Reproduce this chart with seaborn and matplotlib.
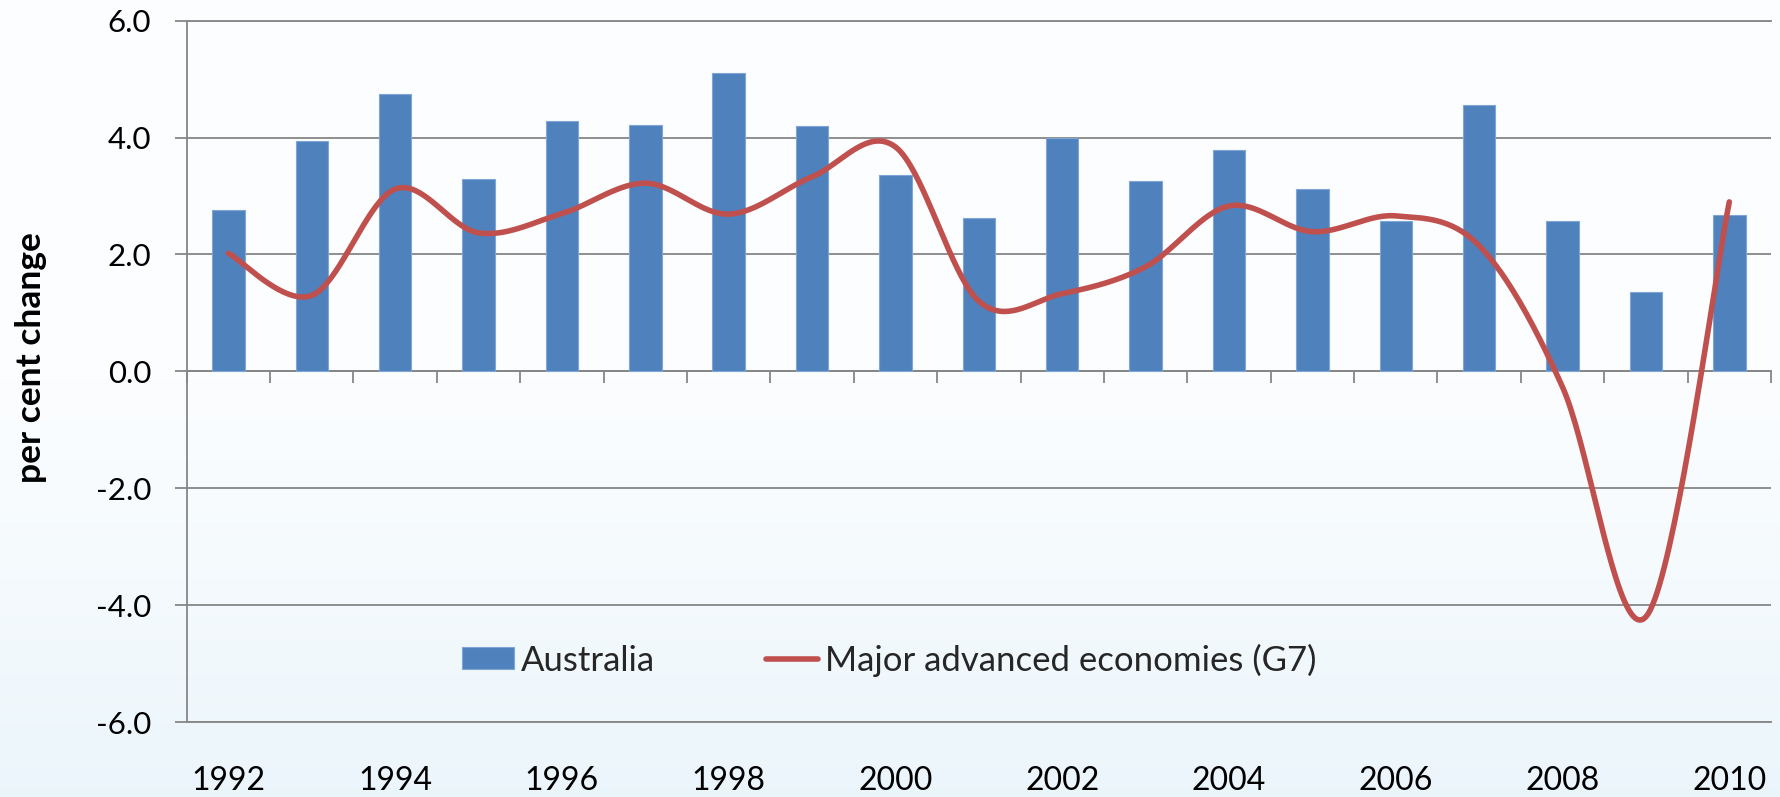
import numpy as np
import pandas as pd
import matplotlib
matplotlib.use("Agg")
import matplotlib.pyplot as plt
import seaborn as sns

# ---- data ----
years = ["1992", "1993", "1994", "1995", "1996", "1997", "1998", "1999", "2000", "2001",
         "2002", "2003", "2004", "2005", "2006", "2007", "2008", "2009", "2010"]
australia = [2.76, 3.94, 4.75, 3.29, 4.28, 4.22, 5.11, 4.19, 3.36, 2.63,
             3.99, 3.26, 3.78, 3.12, 2.57, 4.56, 2.57, 1.36, 2.67]
g7 = [2.02, 1.30, 3.12, 2.37, 2.70, 3.22, 2.69, 3.33, 3.84, 1.20,
      1.33, 1.79, 2.83, 2.39, 2.66, 2.15, -0.27, -4.20, 2.90]
xtick_labels = ["1992", "1994", "1996", "1998", "2000", "2002", "2004", "2006", "2008", "2010"]
yticks = [-6, -4, -2, 0, 2, 4, 6]
series_names = ["Australia", "Major advanced economies (G7)"]

sns.set_theme(style="white")
plt.rcParams["font.family"] = ["Lato", "DejaVu Sans"]

BLUE = "#4F81BD"
RED = "#C0504D"
GRID = "#868686"
FS = 22
LFS = 25

W, H = 1781, 797
fig = plt.figure(figsize=(W / 100, H / 100), dpi=100)

# subtle background gradient
bg = fig.add_axes([0, 0, 1, 1], zorder=-10)
t = np.linspace(0, 1, 400)[:, None]
top = np.array([0.988, 0.994, 0.999])
bot = np.array([0.920, 0.962, 0.984])
w = np.clip((t - 0.40) / 0.60, 0, 1) ** 1.4
img = top[None, None, :] * (1 - w[..., None]) + bot[None, None, :] * w[..., None]
img = np.repeat(img, 4, axis=1)
bg.imshow(img, extent=[0, 1, 0, 1], aspect="auto", origin="upper")
bg.axis("off")

left, right = 186.7 / W, 1771 / W
bottom, topy = 1 - 722 / H, 1 - 20.7 / H
ax = fig.add_axes([left, bottom, right - left, topy - bottom])
ax.patch.set_alpha(0)

df = pd.DataFrame({"year": years, "Australia": australia})
sns.barplot(data=df, x="year", y="Australia", color=BLUE, saturation=1, width=0.39,
            edgecolor="#7FA6D6", linewidth=0.8, ax=ax, label=series_names[0], zorder=2)


def smooth(xs, ys, n=40):
    xs = np.asarray(xs, float)
    ys = np.asarray(ys, float)
    P = np.column_stack([xs, ys])
    m = len(P)
    out = []
    for i in range(m - 1):
        p0 = P[i - 1] if i > 0 else P[i]
        p1 = P[i]
        p2 = P[i + 1]
        p3 = P[i + 2] if i + 2 < m else P[i + 1]
        c1 = p1 + (p2 - p0) / 6.0
        c2 = p2 - (p3 - p1) / 6.0
        tt = np.linspace(0, 1, n)[:, None]
        seg = ((1 - tt) ** 3) * p1 + 3 * ((1 - tt) ** 2) * tt * c1 + 3 * (1 - tt) * tt ** 2 * c2 + tt ** 3 * p2
        out.append(seg if i == 0 else seg[1:])
    out = np.vstack(out)
    return out[:, 0], out[:, 1]


sx, sy = smooth(np.arange(len(years)), g7)
ax.plot(sx, sy, color=RED, lw=4, solid_capstyle="round", label=series_names[1], zorder=3)

ax.set_xlim(-0.5, len(years) - 0.5)
ax.set_ylim(-6, 6)
ax.set_yticks(yticks)
ax.set_yticklabels([f"{v:.1f}".replace("\u2212", "-") for v in yticks])
ax.set_xticks([years.index(l) for l in xtick_labels])
ax.set_xticklabels(xtick_labels)
ax.set_xlabel("")
ax.set_ylabel("")

ax.yaxis.grid(True, color=GRID, linewidth=1.3, zorder=1)
ax.xaxis.grid(False)
ax.set_axisbelow(True)
ax.tick_params(axis="x", length=0, pad=32, labelsize=FS + 1, colors="black")
ax.tick_params(axis="y", left=True, length=8.6, width=1.3, color=GRID, pad=17,
               labelsize=FS + 0.5, labelcolor="black")
for s in ["left", "top", "bottom"]:
    ax.spines[s].set_color(GRID)
    ax.spines[s].set_linewidth(1.3)
ax.spines["right"].set_visible(False)

# category axis crossing at zero with boundary ticks
sec = ax.secondary_xaxis(0, transform=ax.transData)
sec.set_xticks(np.arange(len(years) + 1) - 0.5)
sec.tick_params(axis="x", bottom=True, top=False, direction="out", length=8.6, width=1.3,
                color=GRID, labelbottom=False, labeltop=False)
for s in sec.spines.values():
    s.set_color(GRID)
    s.set_linewidth(1.3)

handles, labels = ax.get_legend_handles_labels()
order = [labels.index(n) for n in series_names]
ax.legend([handles[i] for i in order], [labels[i] for i in order],
          loc="center left", bbox_to_anchor=(462 / W, 1 - 660 / H),
          bbox_transform=fig.transFigure, ncol=2, frameon=False, fontsize=LFS,
          handlelength=1.5, handleheight=0.6, handletextpad=0.2, columnspacing=3.2,
          borderpad=0, borderaxespad=0)

fig.text(31 / W, 1 - 358 / H, "per cent change", rotation=90, ha="center", va="center",
         fontsize=25.5, fontweight="bold", color="black")

fig.savefig("out.png", dpi=100)
